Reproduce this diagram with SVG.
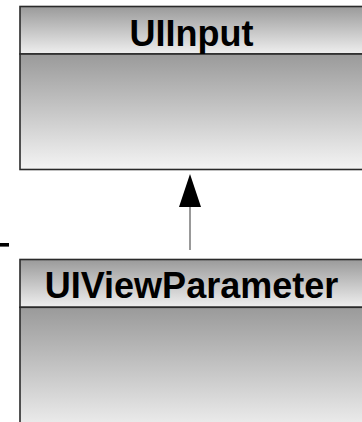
<svg xmlns="http://www.w3.org/2000/svg" width="362" height="422" viewBox="0 0 362 422">
  <defs>
    <linearGradient id="hdr" x1="0" y1="0" x2="0" y2="1">
      <stop offset="0" stop-color="#9a9a9a"/>
      <stop offset="1" stop-color="#efefef"/>
    </linearGradient>
    <linearGradient id="body" x1="0" y1="0" x2="0" y2="1">
      <stop offset="0" stop-color="#9a9a9a"/>
      <stop offset="1" stop-color="#f4f4f4"/>
    </linearGradient>
    <linearGradient id="body2" x1="0" y1="0" x2="0" y2="1" gradientUnits="userSpaceOnUse" gradientTransform="translate(0,253)">
      <stop offset="0" stop-color="#9a9a9a"/>
      <stop offset="1" stop-color="#f4f4f4"/>
    </linearGradient>
    <style>
      .box { stroke: #2a2a2a; stroke-width: 1.6; }
      .title { font-family: "Liberation Sans", Arial, sans-serif; font-weight: bold; font-size: 36px; fill: #000; text-anchor: middle; }
      .conn { stroke: #555; stroke-width: 1.2; fill: none; }
    </style>
  </defs>
  <rect width="362" height="422" fill="#fff"/>
  <rect x="0" y="243" width="9" height="3.6" fill="#000"/>
  <g id="UIInput">
    <rect class="box" x="20" y="6.5" width="345" height="47.5" fill="url(#hdr)"/>
    <rect class="box" x="20" y="54" width="345" height="115.5" fill="url(#body)"/>
    <text class="title" x="191.5" y="46">UIInput</text>
  </g>
  <g id="UIViewParameter">
    <rect class="box" x="20" y="259.5" width="345" height="47.8" fill="url(#hdr)"/>
    <rect class="box" x="20" y="307.3" width="345" height="130" fill="url(#body)"/>
    <text class="title" x="191.5" y="298">UIViewParameter</text>
  </g>
  <g id="connectors">
    <line class="conn" x1="190" y1="250" x2="190" y2="205"/>
    <polygon points="190,174 179,207 201,207" fill="#000"/>
  </g>
</svg>
